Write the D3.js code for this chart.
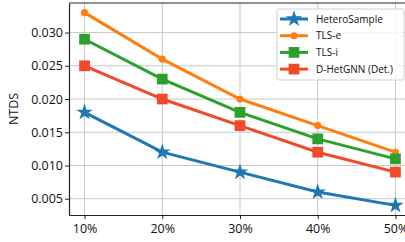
<!DOCTYPE html>
<html>
<head>
<meta charset="utf-8">
<script src="https://cdn.jsdelivr.net/npm/d3@7"></script>
<style>
  body { margin: 0; background: #fff; }
  text { font-family: "Open Sans", "Liberation Sans", sans-serif; }
</style>
</head>
<body>
<div id="chart"></div>
<script>
// data
const ratios = [10, 20, 30, 40, 50];
const tickLabels = ["10%", "20%", "30%", "40%", "50%"];
const seriesNames = ["HeteroSample", "TLS-e", "TLS-i", "D-HetGNN (Det.)"];
const heteroSample = [0.018, 0.012, 0.009, 0.006, 0.004];
const tlsE = [0.033, 0.026, 0.020, 0.016, 0.012];
const tlsI = [0.029, 0.023, 0.018, 0.014, 0.011];
const dHetGnn = [0.025, 0.020, 0.016, 0.012, 0.009];
const yTicks = [0.005, 0.010, 0.015, 0.020, 0.025, 0.030];

const width = 405, height = 242;
const margin = {left: 69, top: 3, right: -6, bottom: 27};

const svg = d3.select("#chart").append("svg")
    .attr("width", width)
    .attr("height", height);

// x domain with matplotlib-like 5% padding
const x = d3.scaleLinear()
    .domain([8, 52])
    .range([margin.left, width - margin.right]);
const y = d3.scaleLinear()
    .domain([0.00255, 0.03445])
    .range([height - margin.bottom, margin.top]);

const colors = ["#1f77b4", "#ff7f0e", "#2ca02c", "#f04a28"];
const markers = [d3.symbolStar, d3.symbolCircle, d3.symbolSquare, d3.symbolSquare];
const markerSize = [85, 40, 115, 115];
const allSeries = [heteroSample, tlsE, tlsI, dHetGnn];

// grid
svg.append("g")
    .selectAll("line.vg")
    .data(ratios)
    .join("line")
    .attr("x1", d => x(d)).attr("x2", d => x(d))
    .attr("y1", margin.top).attr("y2", height - margin.bottom)
    .attr("stroke", "#c8c8c8").attr("stroke-width", 1);
svg.append("g")
    .selectAll("line.hg")
    .data(yTicks)
    .join("line")
    .attr("x1", margin.left).attr("x2", width)
    .attr("y1", d => y(d)).attr("y2", d => y(d))
    .attr("stroke", "#c8c8c8").attr("stroke-width", 1);

// axes
const xAxis = svg.append("g")
    .attr("transform", `translate(0,${height - margin.bottom})`)
    .call(d3.axisBottom(x).tickValues(ratios).tickFormat((d, i) => tickLabels[i]).tickSize(4).tickSizeOuter(0));
const yAxis = svg.append("g")
    .attr("transform", `translate(${margin.left},0)`)
    .call(d3.axisLeft(y).tickValues(yTicks).tickFormat(d3.format(".3f")).tickSize(4).tickSizeOuter(0));

[xAxis, yAxis].forEach(a => {
    a.select(".domain").attr("stroke", "#222").attr("stroke-width", 1.2);
    a.selectAll(".tick line").attr("stroke", "#222");
    a.selectAll("text").attr("font-size", 12.5).attr("fill", "#111")
        .style("font-family", "'Open Sans', sans-serif");
});
xAxis.selectAll("text").attr("dy", "0.85em");
yAxis.selectAll("text").attr("x", -6);

// top spine
svg.append("line")
    .attr("x1", margin.left).attr("x2", width)
    .attr("y1", margin.top).attr("y2", margin.top)
    .attr("stroke", "#222").attr("stroke-width", 1.2);

svg.append("text")
    .attr("transform", `translate(18,${(margin.top + height - margin.bottom) / 2}) rotate(-90)`)
    .attr("text-anchor", "middle")
    .attr("font-size", 12.5)
    .attr("fill", "#111")
    .text("NTDS");

const line = d3.line()
    .x((d, i) => x(ratios[i]))
    .y(d => y(d));

allSeries.forEach((vals, s) => {
    svg.append("path")
        .datum(vals)
        .attr("d", line)
        .attr("fill", "none")
        .attr("stroke", colors[s])
        .attr("stroke-width", 3);
    svg.append("g")
        .selectAll("path")
        .data(vals)
        .join("path")
        .attr("transform", (d, i) => `translate(${x(ratios[i])},${y(d)})`)
        .attr("d", d3.symbol(markers[s], markerSize[s]))
        .attr("fill", colors[s]);
});

// legend
const lg = svg.append("g");
lg.append("rect")
    .attr("x", 277).attr("y", 9)
    .attr("width", 127).attr("height", 71)
    .attr("rx", 2)
    .attr("fill", "#fff").attr("fill-opacity", 0.85)
    .attr("stroke", "#d0d0d0");
seriesNames.forEach((name, s) => {
    const ly = 19 + s * 16.7;
    lg.append("line")
        .attr("x1", 280).attr("x2", 308)
        .attr("y1", ly).attr("y2", ly)
        .attr("stroke", colors[s]).attr("stroke-width", 3);
    lg.append("path")
        .attr("transform", `translate(294,${ly})`)
        .attr("d", d3.symbol(markers[s], markerSize[s]))
        .attr("fill", colors[s]);
    lg.append("text")
        .attr("x", 316).attr("y", ly)
        .attr("dy", "0.35em")
        .attr("font-size", 10)
        .attr("fill", "#111")
        .text(name);
});
</script>
</body>
</html>
